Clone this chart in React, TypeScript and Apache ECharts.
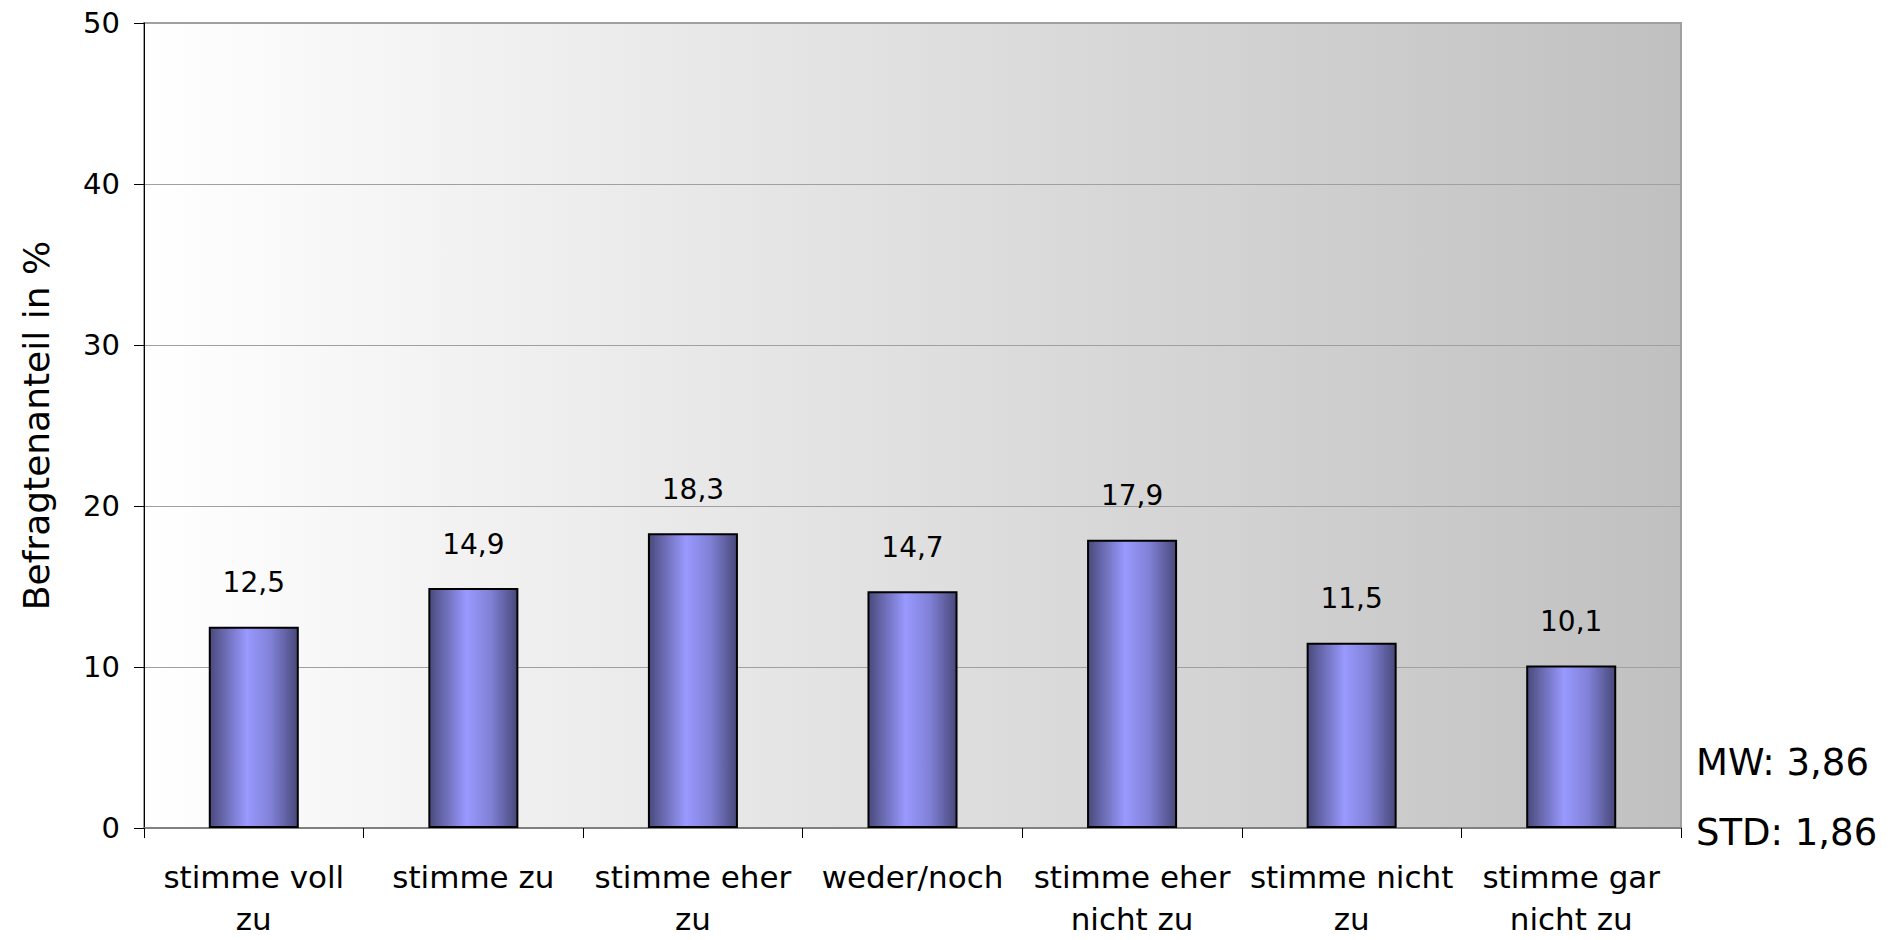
import React, { useEffect, useRef } from "react";
import * as echarts from "echarts";

const categories = [
  "stimme voll\nzu",
  "stimme zu",
  "stimme eher\nzu",
  "weder/noch",
  "stimme eher\nnicht zu",
  "stimme nicht\nzu",
  "stimme gar\nnicht zu",
];
const shares = [12.5, 14.9, 18.3, 14.7, 17.9, 11.5, 10.1];
const yTicks = { min: 0, max: 50, interval: 10 };
const statsLines = ["MW: 3,86", "STD: 1,86"];

const FONT = "'DejaVu Sans', 'Noto Sans', sans-serif";

export default function App() {
  const ref = useRef<HTMLDivElement>(null);

  useEffect(() => {
    document.body.style.margin = "0";
    if (!ref.current) return;
    const chart = echarts.init(ref.current, undefined, { renderer: "svg" });

    const barFill = new echarts.graphic.LinearGradient(0, 0, 1, 0, [
      { offset: 0, color: "#4a4a7c" },
      { offset: 0.42, color: "#9999ff" },
      { offset: 0.7, color: "#8080d6" },
      { offset: 1, color: "#48487a" },
    ]);
    const plotFill = new echarts.graphic.LinearGradient(0, 0, 1, 0, [
      { offset: 0, color: "#ffffff" },
      { offset: 1, color: "#c0c0c0" },
    ]);

    chart.setOption({
      animation: false,
      textStyle: { fontFamily: FONT },
      grid: {
        left: 144,
        right: 212,
        top: 23,
        bottom: 112,
        outerBoundsMode: "none",
        containLabel: false,
        show: true,
        backgroundColor: plotFill,
        borderColor: "#a0a0a0",
        borderWidth: 2,
      },
      xAxis: {
        type: "category",
        data: categories,
        axisLine: { show: true, lineStyle: { color: "#808080", width: 2 } },
        axisTick: {
          show: true,
          alignWithLabel: false,
          length: 10,
          lineStyle: { color: "#000000", width: 1 },
        },
        axisLabel: {
          color: "#000000",
          fontSize: 31,
          fontFamily: FONT,
          lineHeight: 42,
          margin: 28,
          interval: 0,
        },
      },
      yAxis: {
        type: "value",
        min: yTicks.min,
        max: yTicks.max,
        interval: yTicks.interval,
        name: "Befragtenanteil in %",
        nameLocation: "middle",
        nameGap: 90,
        nameTextStyle: { color: "#000000", fontSize: 36, fontFamily: FONT },
        axisLine: { show: true, lineStyle: { color: "#000000", width: 1 } },
        axisTick: { show: true, length: 10, lineStyle: { color: "#000000" } },
        axisLabel: { color: "#000000", fontSize: 29, fontFamily: FONT, margin: 24 },
        splitLine: { show: true, lineStyle: { color: "#a0a0a0", width: 1 } },
      },
      series: [
        {
          type: "bar",
          data: shares,
          barWidth: "41%",
          itemStyle: { color: barFill, borderColor: "#000000", borderWidth: 2 },
          label: {
            show: true,
            position: "top",
            distance: 30,
            color: "#000000",
            fontSize: 28,
            fontFamily: FONT,
            formatter: (p: any) => String(p.value).replace(".", ","),
          },
        },
      ],
      graphic: statsLines.map((t, i) => ({
        type: "text",
        left: 1696,
        top: 744 + i * 70,
        style: { text: t, fontSize: 37, fontFamily: FONT, fill: "#000000" },
      })),
    });

    return () => chart.dispose();
  }, []);

  return <div ref={ref} style={{ width: 1893, height: 940 }} />;
}
